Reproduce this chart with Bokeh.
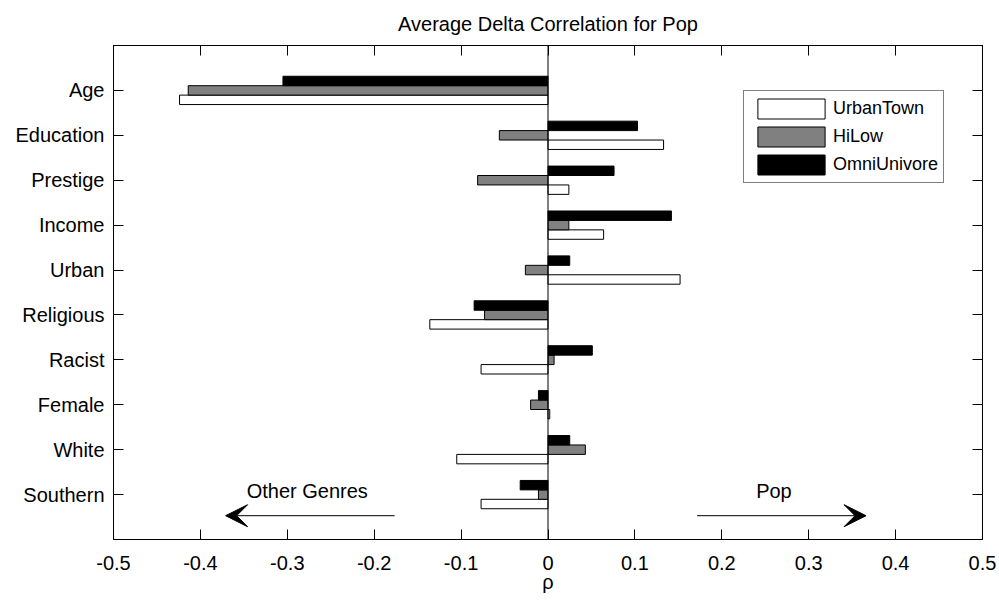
from bokeh.plotting import figure
from bokeh.models import (ColumnDataSource, FixedTicker, LinearAxis, Range1d, Span,
                          Legend, LegendItem, Arrow, VeeHead, Label)
from bokeh.embed import file_html
from bokeh.resources import INLINE

# ---- data ----
categories = ["Age", "Education", "Prestige", "Income", "Urban",
              "Religious", "Racist", "Female", "White", "Southern"]
urban_town = [-0.424, 0.133, 0.024, 0.064, 0.152, -0.136, -0.077, 0.002, -0.105, -0.077]
hi_low = [-0.414, -0.056, -0.081, 0.024, -0.026, -0.073, 0.007, -0.020, 0.043, -0.011]
omni_univore = [-0.305, 0.103, 0.076, 0.142, 0.025, -0.085, 0.051, -0.011, 0.025, -0.032]
series_names = ["UrbanTown", "HiLow", "OmniUnivore"]
x_ticks = [-0.5, -0.4, -0.3, -0.2, -0.1, 0.0, 0.1, 0.2, 0.3, 0.4, 0.5]
x_tick_labels = ["-0.5", "-0.4", "-0.3", "-0.2", "-0.1", "0", "0.1", "0.2", "0.3", "0.4", "0.5"]
title_text = "Average Delta Correlation for Pop"
x_label = "\u03c1"
left_note = "Other Genres"
right_note = "Pop"

FONT = "Liberation Sans"
FS = "20px"

pos = list(range(1, len(categories) + 1))

p = figure(frame_width=869, frame_height=494, output_backend="svg", toolbar_location=None,
           x_range=Range1d(-0.5, 0.5), y_range=Range1d(11, 0),
           min_border_left=113, min_border_right=17, min_border_top=45, min_border_bottom=64)
p.background_fill_color = "white"
p.border_fill_color = "white"
p.outline_line_color = "black"
p.xgrid.visible = False
p.ygrid.visible = False

p.title.text = title_text
p.title.align = "center"
p.title.text_font = FONT
p.title.text_font_size = FS
p.title.text_font_style = "normal"
p.title.text_color = "black"
p.title.standoff = 21

bar_h = 0.21
offsets = [bar_h, 0.0, -bar_h]
fills = ["white", "#808080", "black"]
renderers = []
for vals, off, fc in zip([urban_town, hi_low, omni_univore], offsets, fills):
    src = ColumnDataSource(dict(y=[v + off for v in pos], right=vals))
    r = p.hbar(y="y", left=0, right="right", height=bar_h, source=src,
               fill_color=fc, line_color="black", line_width=1)
    renderers.append(r)

p.add_layout(Span(location=0, dimension="height", line_color="black", line_width=1))

# axes
xt = FixedTicker(ticks=x_ticks, minor_ticks=[])
yt = FixedTicker(ticks=pos, minor_ticks=[])

def style_axis(ax, show_labels=True):
    ax.major_tick_in = 10
    ax.major_tick_out = 0
    ax.minor_tick_in = 0
    ax.minor_tick_out = 0
    ax.axis_line_color = "black"
    ax.major_tick_line_color = "black"
    ax.major_label_text_font = FONT
    ax.major_label_text_font_size = FS if show_labels else "0px"
    ax.major_label_text_color = "black"
    ax.axis_label_text_font = FONT
    ax.axis_label_text_font_size = FS
    ax.axis_label_text_font_style = "normal"
    ax.axis_label_text_color = "black"

xa = p.xaxis[0]
xa.ticker = xt
xa.major_label_overrides = {t: l for t, l in zip(x_ticks, x_tick_labels)}
xa.axis_label = x_label
style_axis(xa)
xa.major_label_standoff = 16
xa.axis_label_standoff = -2

ya = p.yaxis[0]
ya.ticker = yt
ya.major_label_overrides = {i: c for i, c in zip(pos, categories)}
style_axis(ya)
ya.major_label_standoff = 9

top = LinearAxis(ticker=xt, major_label_overrides={t: "" for t in x_ticks})
style_axis(top, False)
top.major_label_standoff = 0
p.add_layout(top, "above")
right = LinearAxis(ticker=yt, major_label_overrides={i: "" for i in pos})
style_axis(right, False)
right.major_label_standoff = 0
p.add_layout(right, "right")

# legend
legend = Legend(items=[LegendItem(label=n, renderers=[r]) for n, r in zip(series_names, renderers)],
                location=(630, 356), glyph_width=84, glyph_height=25, label_height=25,
                spacing=3, padding=5, label_standoff=0,
                label_text_font=FONT, label_text_font_size="18px", label_text_color="black",
                border_line_color="black", border_line_width=1, background_fill_color="white",
                background_fill_alpha=1.0, margin=0)
p.add_layout(legend, "center")

# arrows and notes
arrow_y = 10.47
note_y = 9.92
left_arrow = (-0.1765, -0.371)
right_arrow = (0.1716, 0.366)
for (xs, xe) in [left_arrow, right_arrow]:
    p.add_layout(Arrow(end=VeeHead(size=22, fill_color="black", line_color="black"),
                       x_start=xs, y_start=arrow_y, x_end=xe, y_end=arrow_y,
                       line_color="black", line_width=1))
for txt, xc in [(left_note, -0.277), (right_note, 0.26)]:
    p.add_layout(Label(x=xc, y=note_y, text=txt, text_align="center", text_baseline="middle",
                       text_font=FONT, text_font_size=FS, text_color="black"))

open("out.html", "w").write(file_html(p, INLINE))
